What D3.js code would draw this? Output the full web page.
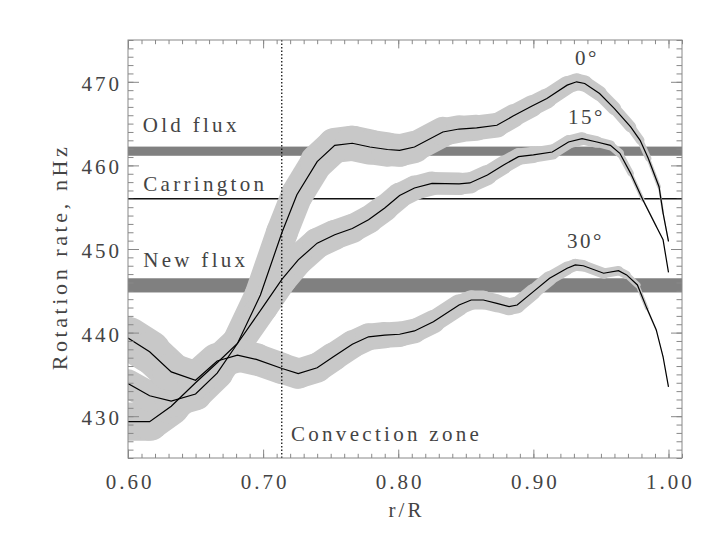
<!DOCTYPE html>
<html><head><meta charset="utf-8">
<script src="https://cdn.jsdelivr.net/npm/d3@7"></script>
<style>body{margin:0;background:#fff}</style>
</head><body><svg id="c" width="719" height="540"></svg>
<script>
// ---- data ----
const xTicks = [0.60, 0.70, 0.80, 0.90, 1.00];
const yTicks = [430, 440, 450, 460, 470];
const xDomain = [0.60, 1.01];
const yDomain = [425, 475];
const xMinorStep = 0.01;
const yMinorStep = 1;
const carringtonRate = 456.0;
const oldFluxRange = [461.15, 462.25];
const newFluxRange = [444.8, 446.5];
const convectionBase = 0.7138;

const r00 = [0.600,0.616,0.632,0.650,0.666,0.681,0.698,0.714,0.725,0.740,0.753,0.766,0.779,0.792,0.801,0.812,0.833,0.845,0.858,0.873,0.885,0.899,0.910,0.925,0.932,0.938,0.949,0.960,0.972,0.979,0.985,0.993,0.996,1.000];
const rate00 = [429.35,429.35,431.2,434.0,436.4,438.7,444.5,452.0,456.5,460.45,462.4,462.65,462.2,461.9,461.8,462.2,464.0,464.35,464.5,464.8,465.9,467.1,468.0,469.6,470.0,469.8,468.6,466.8,464.6,463.0,460.85,457.45,454.3,450.9];
const err00 = [2.3,2.3,2.2,2.1,2.0,1.9,1.9,1.9,1.9,2.0,2.1,2.1,2.1,2.0,1.95,1.9,1.7,1.6,1.5,1.45,1.35,1.25,1.15,1.05,1.0,0.95,0.85,0.75,0.6,0.45,0.3,0.15,0.1,0.05];

const r15 = [0.600,0.616,0.632,0.650,0.666,0.681,0.700,0.714,0.726,0.740,0.753,0.766,0.778,0.790,0.801,0.812,0.825,0.845,0.853,0.866,0.878,0.889,0.900,0.914,0.926,0.936,0.947,0.957,0.964,0.972,0.981,0.991,0.996,1.000];
const rate15 = [433.9,432.45,431.8,432.65,435.15,438.7,443.1,446.4,448.7,450.7,451.7,452.45,453.5,454.9,456.4,457.3,457.85,457.8,457.9,458.85,460.05,461.05,461.25,461.6,462.8,463.2,462.8,462.4,461.45,459.05,455.9,452.7,451.1,447.2];
const err15 = [1.6,1.8,2.0,1.9,1.9,1.8,1.8,1.8,1.8,1.8,1.8,1.7,1.65,1.6,1.5,1.45,1.4,1.3,1.25,1.15,1.05,1.0,0.95,0.85,0.8,0.75,0.65,0.55,0.45,0.3,0.15,0.05,0.02,0.0];

const r30 = [0.600,0.616,0.632,0.650,0.666,0.681,0.695,0.714,0.726,0.740,0.752,0.766,0.778,0.790,0.801,0.812,0.826,0.845,0.854,0.863,0.873,0.882,0.888,0.900,0.912,0.925,0.931,0.937,0.952,0.963,0.969,0.977,0.984,0.991,0.996,1.000];
const rate30 = [439.35,437.7,435.3,434.3,436.6,437.3,436.8,435.7,435.1,435.8,437.1,438.6,439.5,439.7,439.8,440.2,441.3,443.3,443.9,443.9,443.5,443.1,443.3,444.9,446.5,447.7,448.1,448.0,447.1,447.4,446.9,445.7,442.9,440.3,437.1,433.5];
const err30 = [2.6,2.5,2.3,2.2,2.1,2.0,1.9,1.85,1.8,1.75,1.7,1.65,1.6,1.55,1.5,1.45,1.35,1.2,1.15,1.1,1.05,1.0,1.0,0.9,0.85,0.75,0.7,0.7,0.6,0.55,0.45,0.3,0.15,0.05,0.02,0.0];

const seriesLabels = ["0°", "15°", "30°"];
const xTitle = "r/R";
const yTitle = "Rotation rate, nHz";

// ---- layout ----
const svg = d3.select("#c");
const x = d3.scaleLinear().domain(xDomain).range([128, 682]);
const y = d3.scaleLinear().domain(yDomain).range([458, 40]);
const pxPerUnit = y(0) - y(1);
const FONT = "Liberation Serif";
const TXT = "#444";
const AX = "#888";

svg.append("defs").append("clipPath").attr("id", "plot")
  .append("rect").attr("x", x(xDomain[0])).attr("y", y(yDomain[1]))
  .attr("width", x(xDomain[1]) - x(xDomain[0])).attr("height", y(yDomain[0]) - y(yDomain[1]));

const plot = svg.append("g").attr("clip-path", "url(#plot)");

// flux bands
[oldFluxRange, newFluxRange].forEach(rg => {
  plot.append("rect").attr("x", x(xDomain[0])).attr("width", x(xDomain[1]) - x(xDomain[0]))
    .attr("y", y(rg[1])).attr("height", y(rg[0]) - y(rg[1])).attr("fill", "#808080");
});
// Carrington line
plot.append("line").attr("x1", x(xDomain[0])).attr("x2", x(xDomain[1]))
  .attr("y1", y(carringtonRate)).attr("y2", y(carringtonRate))
  .attr("stroke", "#111").attr("stroke-width", 1.5);

// error bands as variable-width pen
const series = [[r00, rate00, err00], [r15, rate15, err15], [r30, rate30, err30]];
const bandG = plot.append("g");
series.forEach(([rs, vs, es]) => {
  for (let i = 0; i < rs.length - 1; i++) {
    const w = (es[i] + es[i + 1]) * pxPerUnit;
    if (w <= 0) continue;
    bandG.append("line")
      .attr("x1", x(rs[i])).attr("y1", y(vs[i]))
      .attr("x2", x(rs[i + 1])).attr("y2", y(vs[i + 1]))
      .attr("stroke", "#c8c8c8").attr("stroke-width", w).attr("stroke-linecap", "round");
  }
});

// convection zone base
plot.append("line").attr("x1", x(convectionBase)).attr("x2", x(convectionBase))
  .attr("y1", y(yDomain[0])).attr("y2", y(yDomain[1]))
  .attr("stroke", "#000").attr("stroke-width", 1.2).attr("stroke-dasharray", "1.5,2");

// curves
const line = d3.line().x(d => x(d[0])).y(d => y(d[1]));
series.forEach(([rs, vs]) => {
  plot.append("path").datum(rs.map((r, i) => [r, vs[i]]))
    .attr("d", line).attr("fill", "none").attr("stroke", "#000").attr("stroke-width", 1.2);
});

// ---- axes ----
const xMinor = d3.range(Math.round((xDomain[1] - xDomain[0]) / xMinorStep) + 1).map(i => xDomain[0] + i * xMinorStep);
const yMinor = d3.range(Math.round((yDomain[1] - yDomain[0]) / yMinorStep) + 1).map(i => yDomain[0] + i * yMinorStep);
const X0 = x(xDomain[0]), X1 = x(xDomain[1]), Y0 = y(yDomain[0]), Y1 = y(yDomain[1]);

function styleAxis(g) {
  g.select(".domain").remove();
  g.selectAll(".tick line").attr("stroke", AX).attr("stroke-width", 1);
  g.attr("font-family", FONT).attr("font-size", 21);
  g.selectAll("text").attr("fill", TXT).attr("letter-spacing", 3);
}
// bottom
svg.append("g").attr("transform", `translate(0,${Y0})`)
  .call(d3.axisBottom(x).tickValues(xMinor).tickSize(-4.2).tickFormat("")).call(styleAxis);
svg.append("g").attr("transform", `translate(0,${Y0})`)
  .call(d3.axisBottom(x).tickValues(xTicks).tickSize(-8.4).tickPadding(16).tickFormat(d3.format(".2f")))
  .call(styleAxis).call(g => g.selectAll("text").attr("dx", 1.5));
// top
svg.append("g").attr("transform", `translate(0,${Y1})`)
  .call(d3.axisTop(x).tickValues(xMinor).tickSize(-4.2).tickFormat("")).call(styleAxis);
svg.append("g").attr("transform", `translate(0,${Y1})`)
  .call(d3.axisTop(x).tickValues(xTicks).tickSize(-8.4).tickFormat("")).call(styleAxis);
// left
svg.append("g").attr("transform", `translate(${X0},0)`)
  .call(d3.axisLeft(y).tickValues(yMinor).tickSize(-5.5).tickFormat("")).call(styleAxis);
svg.append("g").attr("transform", `translate(${X0},0)`)
  .call(d3.axisLeft(y).tickValues(yTicks).tickSize(-11).tickPadding(6).tickFormat(d3.format("d")))
  .call(styleAxis).call(g => g.selectAll("text").attr("dy", "0.4em"));
// right
svg.append("g").attr("transform", `translate(${X1},0)`)
  .call(d3.axisRight(y).tickValues(yMinor).tickSize(-5.5).tickFormat("")).call(styleAxis);
svg.append("g").attr("transform", `translate(${X1},0)`)
  .call(d3.axisRight(y).tickValues(yTicks).tickSize(-11).tickFormat("")).call(styleAxis);
// frame
svg.append("rect").attr("x", X0).attr("y", Y1).attr("width", X1 - X0).attr("height", Y0 - Y1)
  .attr("fill", "none").attr("stroke", AX).attr("stroke-width", 1);

// ---- text ----
function label(txt, xv, yv, opts = {}) {
  return svg.append("text").attr("x", x(xv)).attr("y", y(yv))
    .attr("font-family", FONT).attr("font-size", opts.size || 21)
    .attr("letter-spacing", opts.ls == null ? 3.3 : opts.ls)
    .attr("fill", TXT).attr("text-anchor", opts.anchor || "start").text(txt);
}
label("Old flux", 0.6109, 464.03);
label("Carrington", 0.6113, 456.94);
label("New flux", 0.6113, 447.9);
label("Convection zone", 0.7206, 427.03);
label(seriesLabels[0], 0.9308, 472.0, {ls: 2.5});
label(seriesLabels[1], 0.9257, 464.92, {ls: 2.5});
label(seriesLabels[2], 0.9249, 450.08, {ls: 2.5});

svg.append("text").attr("x", (X0 + X1) / 2 + 1.5).attr("y", 517)
  .attr("font-family", FONT).attr("font-size", 21).attr("letter-spacing", 3)
  .attr("fill", TXT).attr("text-anchor", "middle").text(xTitle);
svg.append("text").attr("transform", `translate(67,${(Y0 + Y1) / 2 + 8}) rotate(-90)`)
  .attr("font-family", FONT).attr("font-size", 22).attr("letter-spacing", 3.6)
  .attr("fill", TXT).attr("text-anchor", "middle").text(yTitle);
</script>
</body></html>
